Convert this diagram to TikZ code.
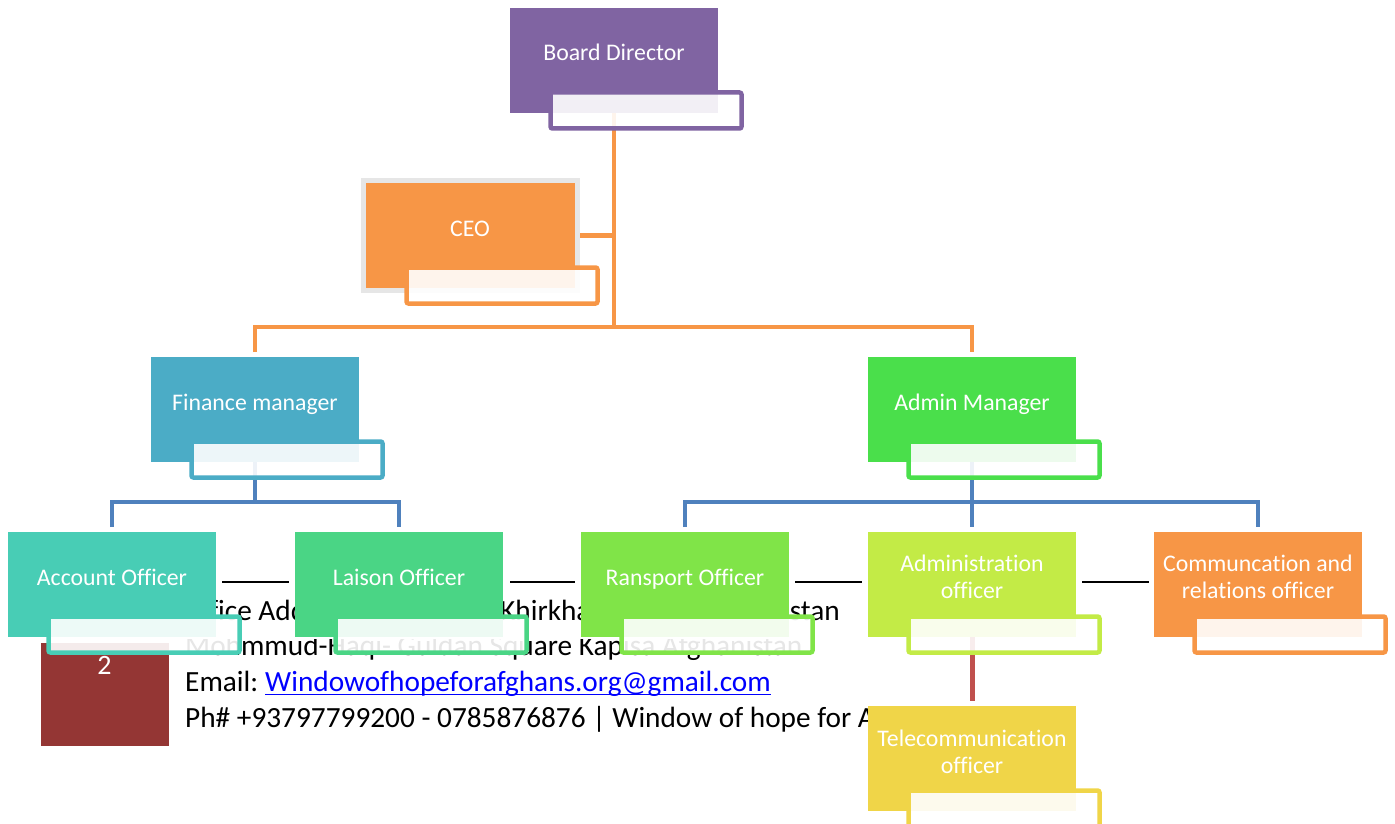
\documentclass[tikz,border=0pt]{standalone}
\usepackage{fontspec}
\setmainfont{Carlito}[Ligatures=CommonOff]
\usetikzlibrary{calc}
\pgfdeclarelayer{background}
\pgfsetlayers{background,main}
\definecolor{cPurple}{HTML}{8064A2}
\definecolor{cOrange}{HTML}{F79646}
\definecolor{cFin}{HTML}{4BACC6}
\definecolor{cAdm}{HTML}{4ADF4B}
\definecolor{cAcc}{HTML}{48CDB5}
\definecolor{cLai}{HTML}{4AD585}
\definecolor{cRsp}{HTML}{80E448}
\definecolor{cAof}{HTML}{C3EB46}
\definecolor{cTel}{HTML}{F0D548}
\definecolor{cBlue}{HTML}{4F81BD}
\definecolor{cRed}{HTML}{C0504D}
\definecolor{cFoot}{HTML}{943634}
\definecolor{cFrame}{HTML}{E6E6E6}
\definecolor{cLink}{HTML}{0000FF}
\tikzset{
  mainbox/.style={rectangle, minimum width=208pt, minimum height=105pt, inner sep=0pt, outer sep=0pt, fill=#1, draw=none},
  subbox/.style={rectangle, minimum width=191pt, minimum height=36pt, inner sep=0pt, draw=#1, line width=4.5pt, fill=white, fill opacity=0.9, rounded corners=2pt},
  boxlabel/.style={anchor=base, inner sep=0pt, text=white, font=\fontsize{23.8}{27}\selectfont},
  oline/.style={draw=cOrange, line width=4.5pt},
  bline/.style={draw=cBlue, line width=4.5pt},
  rline/.style={draw=cRed, line width=5pt},
  kline/.style={draw=black, line width=2.2pt},
  foot/.style={anchor=base west, inner sep=0pt, font=\fontsize{29.3}{35}\selectfont},
}
\newcommand\orgbox[6]{%
  \node[mainbox=#4] (#1) at (#2+104,#3+52.5) {};
  \node[subbox=#4] (#1-sub) at (#2+136,#3+102.5) {};
  \node[boxlabel] (#1-t) at (#2+104,#3+#5) {\begin{tabular}[t]{@{}c@{}}#6\end{tabular}};
}
\begin{document}
\begin{tikzpicture}[x=1pt,y=-1pt]
\useasboundingbox (0,0) rectangle (1395,824);
% footer
\node[foot] (addr1) at (181,620) {Office Address:};
\node[foot] (addr1b) at (500,620) {Khirkhana Kabul Afghanistan};
\begin{scope}
\clip (0,639) rectangle (1395,824);
\node[foot] (addr2) at (185,655) {Mohmmud-Haqi- Guldan Square Kapisa Afghanistan};
\end{scope}
\node[foot] (mail) at (185,691) {Email:};
\node[foot, text=cLink] (link) at ([xshift=6.6pt]mail.base east) {Windowofhopeforafghans.org@gmail.com};
\draw[cLink, line width=1.8pt] ([yshift=-3.5pt]link.base west) -- ([yshift=-3.5pt]link.base east);
\node[foot] (phone) at (185,727) {Ph\# +93797799200 - 0785876876 | Window of hope for A};
\node[fill=cFoot, minimum width=128pt, minimum height=103pt, inner sep=0pt, outer sep=0pt] (pagebox) at (105,694.5) {};
\node[anchor=base, text=white, inner sep=0pt, font=\fontsize{28}{30}\selectfont] (pagenum) at (104.5,674) {2};
% boxes
\node[draw=cFrame, line width=5pt, fill=cOrange, minimum width=214pt, minimum height=110pt, inner sep=0pt] (ceo-frame) at (470.5,235.5) {};
\orgbox{board}{510}{8}{cPurple}{53}{Board Director}
\orgbox{ceo}{366}{183}{cOrange}{53}{CEO}
\orgbox{fin}{151}{357}{cFin}{53}{Finance manager}
\orgbox{adm}{868}{357}{cAdm}{53}{Admin Manager}
\orgbox{acc}{8}{532}{cAcc}{53}{Account Officer}
\orgbox{lai}{295}{532}{cLai}{53}{Laison Officer}
\orgbox{rsp}{581}{532}{cRsp}{53}{Ransport Officer}
\orgbox{aof}{868}{532}{cAof}{39}{Administration\\officer}
\orgbox{com}{1154}{532}{cOrange}{39}{Communcation and\\relations officer}
\orgbox{tel}{868}{706}{cTel}{40}{Telecommunication\\officer}
% connectors
\begin{pgfonlayer}{background}
\coordinate (hub) at (614,327);
\draw[oline] (board.south) -- (board.south |- hub);
\draw[oline] (ceo-frame.east) -- (ceo-frame.east -| board.south);
\draw[oline] ([yshift=5pt]fin.north) -- ++(0,-25) -| ([yshift=5pt]adm.north);
\draw[bline] (fin.south) -- ++(0,40);
\draw[bline] ([yshift=5pt]acc.north) -- ++(0,-25) -| ([yshift=5pt]lai.north);
\draw[bline] ([yshift=5pt]rsp.north) -- ++(0,-25) -| ([yshift=5pt]com.north);
\draw[bline] (adm.south) -- ([yshift=5pt]aof.north);
\draw[rline] (aof.south) -- ([yshift=5pt]tel.north);
\draw[kline] ([xshift=6pt,yshift=2.5pt]acc.east) -- ([xshift=-6pt,yshift=2.5pt]lai.west);
\draw[kline] ([xshift=7pt,yshift=2.5pt]lai.east) -- ([xshift=-6pt,yshift=2.5pt]rsp.west);
\draw[kline] ([xshift=6pt,yshift=2.5pt]rsp.east) -- ([xshift=-6pt,yshift=2.5pt]aof.west);
\draw[kline] ([xshift=6pt,yshift=2.5pt]aof.east) -- ([xshift=-5pt,yshift=2.5pt]com.west);
\end{pgfonlayer}
\end{tikzpicture}
\end{document}
